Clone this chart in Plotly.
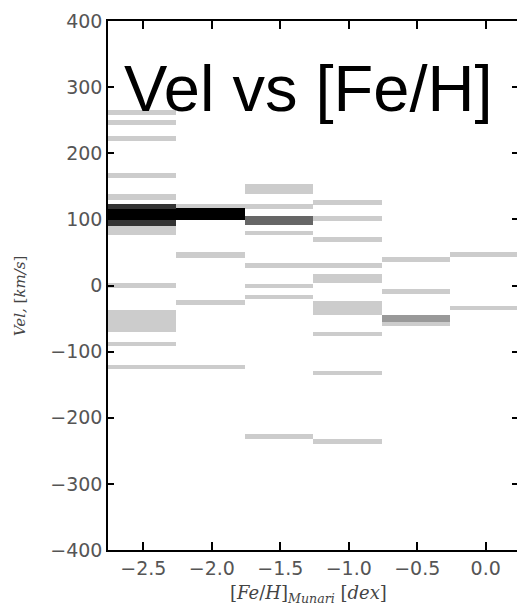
import plotly.graph_objects as go

# [Fe/H] bin edges (6 bins of 0.5 dex)
feh_bin_edges = [-2.758, -2.258, -1.758, -1.258, -0.758, -0.258, 0.242]

# Histogram strips: column index, velocity low/high, count
strip_col = [0]*13 + [1]*5 + [2]*8 + [3]*9 + [4]*4 + [5]*2
strip_v_low = [258, 243, 218, 163, 130, 116, 99, 90, 76, -3.5, -70, -92, -127,
               117, 99, 42, -29, -127,
               139, 116, 91, 76, 26, -4, -21, -232,
               122, 98, 66, 26, 4, -45, -77, -136, -239,
               36, -13, -55, -61,
               43, -37]
strip_v_high = [266, 250, 226, 170, 138, 124, 116, 99, 90, 3.5, -37, -85, -120,
                123, 117, 50, -22, -120,
                153, 123, 105, 83, 34, 3, -14, -225,
                129, 105, 74, 34, 17, -23, -70, -129, -232,
                43, -5, -45, -55,
                50, -31]
strip_count = [1, 1, 1, 1, 1, 4, 5, 4, 1, 1, 1, 1, 1,
               1, 5, 1, 1, 1,
               1, 1, 3, 1, 1, 1, 1, 1,
               1, 1, 1, 1, 1, 1, 1, 1, 1,
               1, 1, 2, 1,
               1, 1]
max_count = 5

x_ticks = [-2.5, -2.0, -1.5, -1.0, -0.5, 0.0]
y_ticks = [-400, -300, -200, -100, 0, 100, 200, 300, 400]

centers = [(feh_bin_edges[i] + feh_bin_edges[i + 1]) / 2 for i in strip_col]
widths = [feh_bin_edges[i + 1] - feh_bin_edges[i] for i in strip_col]
heights = [h - l for l, h in zip(strip_v_low, strip_v_high)]


def gray(c):
    g = int(round(255 * (1 - c / max_count)))
    return f"rgb({g},{g},{g})"


colors = [gray(c) for c in strip_count]

fig = go.Figure()
fig.add_trace(go.Bar(
    x=centers, y=heights, base=strip_v_low, width=widths,
    marker=dict(color=colors, line=dict(width=0)),
    showlegend=False, hoverinfo="skip",
))
fig.add_trace(go.Scatter(x=[-2.5], y=[0], yaxis="y2", mode="markers",
                         marker=dict(opacity=0), showlegend=False, hoverinfo="skip"))

tickfont = dict(family="DejaVu Sans", size=19, color="#555555")
fig.update_layout(
    width=517, height=606,
    margin=dict(l=108, r=0, t=21, b=56),
    paper_bgcolor="white", plot_bgcolor="white",
    barmode="overlay", bargap=0,
    xaxis=dict(range=[-2.758, 0.2285], tickvals=x_ticks,
               ticktext=[f"{v:.1f}".replace("-", "\u2212") for v in x_ticks],
               ticks="inside", ticklen=8, tickwidth=1.5, tickcolor="black",
               showline=True, linecolor="black", linewidth=1.5, mirror="ticks",
               showgrid=False, zeroline=False, tickfont=tickfont),
    yaxis=dict(range=[-400, 400], tickvals=y_ticks,
               ticktext=[str(v).replace("-", "\u2212") for v in y_ticks],
               ticks="inside", ticklen=6, tickwidth=1.5, tickcolor="black",
               showline=True, linecolor="black", linewidth=1.5,
               showgrid=False, zeroline=False, tickfont=tickfont),
    yaxis2=dict(range=[-400, 400], tickvals=y_ticks, overlaying="y", side="right",
                ticks="inside", ticklen=5, tickwidth=1.5, tickcolor="black",
                showline=False, showgrid=False, zeroline=False, showticklabels=False),
)

fig.add_annotation(text="Vel vs [Fe/H]", xref="paper", yref="paper",
                   x=0.4878, y=0.873, xanchor="center", yanchor="middle",
                   showarrow=False,
                   font=dict(family="Liberation Sans", size=65, color="black"))
fig.add_annotation(text="[<i>Fe</i>/<i>H</i>]<sub><i>Munari</i></sub> [<i>dex</i>]",
                   xref="paper", yref="paper", x=0.49, y=-0.083,
                   xanchor="center", yanchor="middle", showarrow=False,
                   font=dict(family="DejaVu Serif", size=18, color="#444444"))
fig.add_annotation(text="<i>Vel,</i> [<i>km/s</i>]",
                   xref="paper", yref="paper", x=-0.215, y=0.48,
                   xanchor="center", yanchor="middle", textangle=-90, showarrow=False,
                   font=dict(family="DejaVu Serif", size=15, color="#444444"))

fig.write_html("out.html")
